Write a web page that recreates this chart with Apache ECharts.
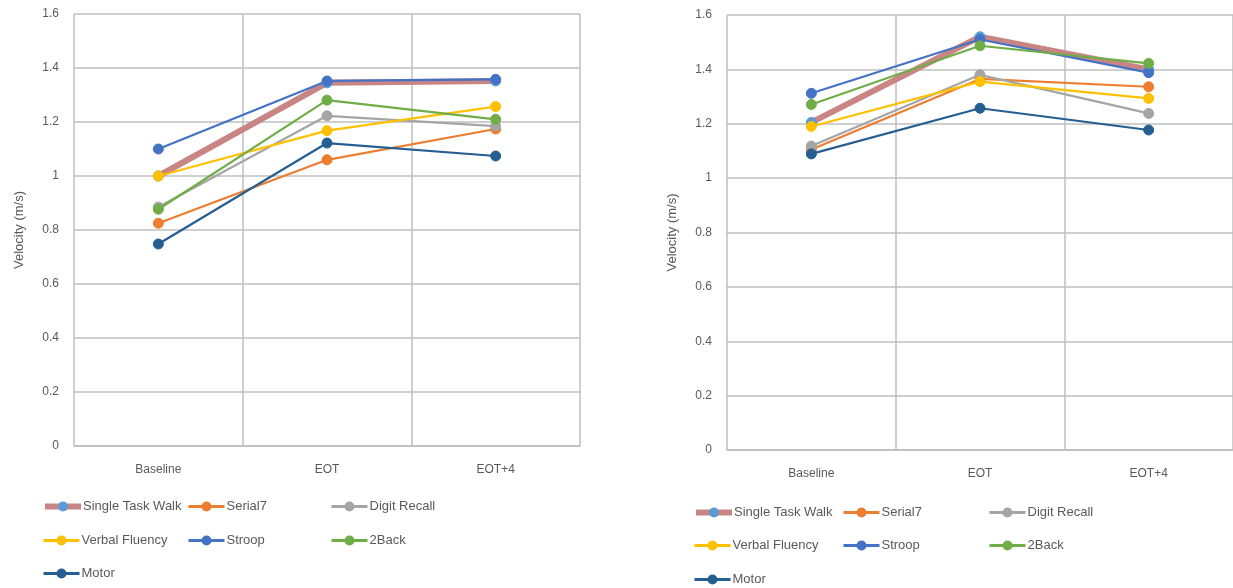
<!DOCTYPE html>
<html><head><meta charset="utf-8">
<script src="https://cdn.jsdelivr.net/npm/echarts@6/dist/echarts.min.js"></script>
<style>html,body{margin:0;padding:0;background:#fff}#c{width:1233px;height:588px}</style>
</head><body><div id="c"></div>
<script>
const categories = ['Baseline', 'EOT', 'EOT+4'];
const seriesNames = ['Single Task Walk', 'Serial7', 'Digit Recall', 'Verbal Fluency', 'Stroop', '2Back', 'Motor'];
const yTicks = [0, 0.2, 0.4, 0.6, 0.8, 1, 1.2, 1.4, 1.6];
const yTitle = 'Velocity (m/s)';

// Left panel values
const leftSingleTaskWalk = [1.00, 1.345, 1.352];
const leftSerial7        = [0.825, 1.06, 1.174];
const leftDigitRecall    = [0.885, 1.223, 1.185];
const leftVerbalFluency  = [1.00, 1.168, 1.257];
const leftStroop         = [1.10, 1.352, 1.358];
const left2Back          = [0.877, 1.281, 1.21];
const leftMotor          = [0.748, 1.122, 1.074];

// Right panel values
const rightSingleTaskWalk = [1.205, 1.52, 1.40];
const rightSerial7        = [1.105, 1.365, 1.336];
const rightDigitRecall    = [1.118, 1.38, 1.238];
const rightVerbalFluency  = [1.19, 1.355, 1.293];
const rightStroop         = [1.312, 1.51, 1.388];
const right2Back          = [1.271, 1.487, 1.422];
const rightMotor          = [1.089, 1.257, 1.177];

const leftData = [leftSingleTaskWalk, leftSerial7, leftDigitRecall, leftVerbalFluency, leftStroop, left2Back, leftMotor];
const rightData = [rightSingleTaskWalk, rightSerial7, rightDigitRecall, rightVerbalFluency, rightStroop, right2Back, rightMotor];

const colors = ['#5B9BD5', '#ED7D31', '#A5A5A5', '#FFC000', '#4472C4', '#70AD47', '#255E91'];
const STW_LINE = '#C98584';
const FONT = 'Liberation Sans';
const TXT = '#595959';
const GRID = '#BFBFBF';

function makeSeries(data, axisIdx) {
  return data.map((vals, i) => {
    const isSTW = i === 0;
    return {
      name: seriesNames[i], type: 'line', xAxisIndex: axisIdx, yAxisIndex: axisIdx,
      data: vals, symbol: 'circle', symbolSize: 10,
      itemStyle: { color: colors[i], borderColor: colors[i], borderWidth: 1 },
      lineStyle: isSTW ? { color: STW_LINE, width: 6 } : { color: colors[i], width: 2.2 },
      emphasis: { disabled: true }, animation: false, z: 2 + i
    };
  });
}

function makeLegends(cols, rows) {
  const pos = [[0,0],[1,0],[2,0],[0,1],[1,1],[2,1],[0,2]];
  return seriesNames.map((n, i) => ({
    data: [{ name: n }], left: cols[pos[i][0]], top: rows[pos[i][1]] - 7,
    padding: 0, itemWidth: 36, itemHeight: 10, itemGap: 2,
    lineStyle: i === 0 ? { width: 6, color: STW_LINE } : { width: 3, color: colors[i] },
    textStyle: { color: TXT, fontFamily: FONT, fontSize: 13, padding: [0,0,0,-3] },
    selectedMode: false
  }));
}

function xAxis(gi) {
  return {
    type: 'category', gridIndex: gi, data: categories, boundaryGap: true,
    axisLine: { show: true, lineStyle: { color: GRID, width: 1.5 } },
    axisTick: { show: false },
    splitLine: { show: true, lineStyle: { color: GRID, width: 1.5 } },
    axisLabel: { color: TXT, fontFamily: FONT, fontSize: 12, margin: 18 }
  };
}
function yAxis(gi) {
  return {
    type: 'value', gridIndex: gi, min: yTicks[0], max: yTicks[yTicks.length-1], interval: 0.2,
    name: yTitle, nameLocation: 'middle', nameRotate: 90, nameGap: 48,
    nameTextStyle: { color: TXT, fontFamily: FONT, fontSize: 13 },
    axisLine: { show: false }, axisTick: { show: false },
    splitLine: { show: true, lineStyle: { color: GRID, width: 1.5 } },
    axisLabel: { color: TXT, fontFamily: FONT, fontSize: 12, margin: 15 }
  };
}

const chart = echarts.init(document.getElementById('c'));
chart.setOption({
  animation: false,
  backgroundColor: '#fff',
  grid: [
    { left: 74, top: 14, width: 506, height: 432 },
    { left: 727, top: 15, width: 511, height: 435 }
  ],
  xAxis: [xAxis(0), xAxis(1)],
  yAxis: [yAxis(0), yAxis(1)],
  legend: makeLegends([42, 187, 330], [507, 541, 574]).concat(makeLegends([693, 842, 988], [513, 546, 580])),
  series: makeSeries(leftData, 0).concat(makeSeries(rightData, 1))
});
</script></body></html>
